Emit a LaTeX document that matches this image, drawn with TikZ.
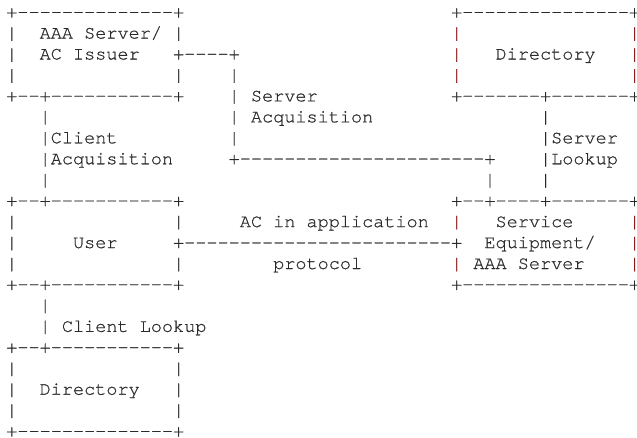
\documentclass[tikz,border=0pt]{standalone}
\usepackage{fontspec}
\newfontfamily\asciifont[Ligatures=TeXOff,FakeBold=0.6]{TeX Gyre Cursor}
\definecolor{ink}{HTML}{2A2A2A}
\definecolor{redbar}{HTML}{8B1A1A}
\begin{document}
\begin{tikzpicture}[x=11.12pt,y=-20.95pt,
  txt/.style={anchor=base west, inner sep=0pt, outer sep=0pt, text=ink,
    font=\asciifont\fontsize{18.53pt}{20pt}\selectfont, xshift=6.3pt, yshift=-17.6pt},
  redtxt/.style={txt, text=redbar}]
\useasboundingbox (0pt,0pt) rectangle (637pt,-437pt);
% --- AAA Server / AC Issuer box
\node[txt] (aaaT) at (0,0) {+--------------+};
\node[txt] (aaa1) at (3,1) {AAA Server/};
\node[txt] (aaa2) at (3,2) {AC Issuer};
\foreach \r in {1,2,3} {\node[txt] (aaaL\r) at (0,\r) {|};}
\foreach \r in {1,3} {\node[txt] (aaaR\r) at (15,\r) {|};}
\node[txt] (aaaB) at (0,4) {+--+-----------+};
% --- Server acquisition connector
\node[txt] (sacq0) at (15,2) {+----+};
\foreach \r in {3,4,5,6} {\node[txt] (sacqV\r) at (20,\r) {|};}
\node[txt] (sacqA) at (22,4) {Server};
\node[txt] (sacqB) at (22,5) {Acquisition};
\node[txt] (sacq7) at (20,7) {+----------------------+};
\node[txt] (sacq8) at (43,8) {|};
% --- Client acquisition connector
\node[txt] (cacq5) at (3,5) {|};
\node[txt] (cacq6) at (3,6) {|Client};
\node[txt] (cacq7) at (3,7) {|Acquisition};
\node[txt] (cacq8) at (3,8) {|};
% --- Directory (top right)
\node[txt] (dirT) at (40,0) {+---------------+};
\foreach \r in {1,2,3} {\node[redtxt] (dirL\r) at (40,\r) {|}; \node[redtxt] (dirR\r) at (56,\r) {|};}
\node[txt] (dirname) at (44,2) {Directory};
\node[txt] (dirB) at (40,4) {+-------+-------+};
% --- Server lookup connector
\node[txt] (slk5) at (48,5) {|};
\node[txt] (slk6) at (48,6) {|Server};
\node[txt] (slk7) at (48,7) {|Lookup};
\node[txt] (slk8) at (48,8) {|};
% --- User box
\node[txt] (userT) at (0,9) {+--+-----------+};
\foreach \r in {10,11,12} {\node[txt] (userL\r) at (0,\r) {|};}
\foreach \r in {10,12} {\node[txt] (userR\r) at (15,\r) {|};}
\node[txt] (username) at (6,11) {User};
\node[txt] (userB) at (0,13) {+--+-----------+};
% --- AC in application protocol
\node[txt] (acp1) at (21,10) {AC in application};
\node[txt] (acp) at (15,11) {+------------------------+};
\node[txt] (acp2) at (24,12) {protocol};
% --- Service Equipment / AAA Server box
\node[txt] (svcT) at (40,9) {+--+----+-------+};
\foreach \r in {10,12} {\node[redtxt] (svcL\r) at (40,\r) {|};}
\foreach \r in {10,11,12} {\node[redtxt] (svcR\r) at (56,\r) {|};}
\node[txt] (svc1) at (44,10) {Service};
\node[txt] (svc2) at (43,11) {Equipment/};
\node[txt] (svc3) at (42,12) {AAA Server};
\node[txt] (svcB) at (40,13) {+---------------+};
% --- Client lookup connector
\node[txt] (clk14) at (3,14) {|};
\node[txt] (clk15) at (3,15) {|};
\node[txt] (clklab) at (5,15) {Client Lookup};
% --- Directory (bottom left)
\node[txt] (cdirT) at (0,16) {+--+-----------+};
\foreach \r in {17,18,19} {\node[txt] (cdirL\r) at (0,\r) {|}; \node[txt] (cdirR\r) at (15,\r) {|};}
\node[txt] (cdirname) at (3,18) {Directory};
\node[txt] (cdirB) at (0,20) {+--------------+};
\end{tikzpicture}
\end{document}
